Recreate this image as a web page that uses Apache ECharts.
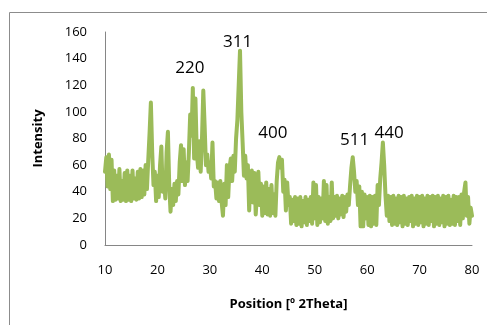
<!DOCTYPE html>
<html>
<head>
<meta charset="utf-8">
<script src="https://cdn.jsdelivr.net/npm/echarts@6/dist/echarts.min.js"></script>
<style>
html,body{margin:0;padding:0;background:#fff;}
#chart{width:487px;height:325px;}
</style>
</head>
<body>
<div id="chart"></div>
<script>
// 2Theta sampling: start 10, step 0.25 degrees
const thetaStart = 10;
const thetaStep = 0.25;
// Intensity values, one row per degree (x.00, x.25, x.50, x.75)
const intensity = [
  55, 66, 44, 68,   // 10
  42, 64, 33, 56,   // 11
  34, 52, 35, 57,   // 12
  33, 48, 34, 54,   // 13
  33, 56, 34, 52,   // 14
  33, 56, 35, 50,   // 15
  34, 55, 35, 57,   // 16
  36, 56, 38, 60,   // 17
  42, 64, 84, 107,  // 18
  70, 45, 55, 33,   // 19
  52, 36, 60, 74,   // 20
  40, 50, 35, 70,   // 21
  85, 45, 25, 42,   // 22
  30, 46, 33, 48,   // 23
  38, 62, 75, 48,   // 24
  72, 45, 62, 48,   // 25
  70, 98, 82, 118,  // 26
  65, 110, 70, 58,  // 27
  78, 55, 80, 116,  // 28
  90, 60, 68, 55,   // 29
  62, 50, 77, 44,   // 30
  48, 35, 47, 33,   // 31
  48, 32, 22, 46,   // 32
  30, 60, 36, 58,   // 33
  65, 48, 67, 55,   // 34
  80, 94, 120, 146, // 35
  100, 77, 52, 67,  // 36
  50, 60, 26, 52,   // 37
  56, 32, 54, 23,   // 38
  40, 55, 30, 46,   // 39
  22, 44, 24, 47,   // 40
  23, 42, 22, 45,   // 41
  24, 38, 22, 48,   // 42
  62, 66, 58, 64,   // 43
  40, 49, 26, 47,   // 44
  30, 36, 16, 34,   // 45
  18, 36, 15, 35,   // 46
  16, 36, 14, 33,   // 47
  17, 36, 15, 34,   // 48
  18, 36, 16, 47,   // 49
  20, 45, 15, 36,   // 50
  17, 35, 20, 48,   // 51
  18, 45, 16, 36,   // 52
  18, 47, 20, 36,   // 53
  22, 37, 20, 35,   // 54
  23, 37, 21, 36,   // 55
  25, 38, 30, 45,   // 56
  58, 66, 55, 40,   // 57
  48, 30, 44, 14,   // 58
  40, 14, 38, 20,   // 59
  36, 15, 37, 14,   // 60
  36, 16, 37, 15,   // 61
  45, 30, 50, 62,   // 62
  77, 60, 37, 22,   // 63
  37, 18, 36, 15,   // 64
  37, 16, 35, 15,   // 65
  37, 17, 36, 14,   // 66
  37, 16, 35, 15,   // 67
  36, 18, 37, 14,   // 68
  35, 16, 37, 15,   // 69
  36, 17, 37, 14,   // 70
  35, 16, 37, 15,   // 71
  36, 18, 37, 14,   // 72
  36, 16, 37, 15,   // 73
  35, 17, 37, 14,   // 74
  36, 16, 37, 15,   // 75
  34, 16, 37, 15,   // 76
  36, 18, 36, 15,   // 77
  38, 20, 40, 47,   // 78
  22, 36, 16, 28,   // 79
  22                // 80
];
const xTicks = [10, 20, 30, 40, 50, 60, 70, 80];
const yTicks = [0, 20, 40, 60, 80, 100, 120, 140, 160];
// Peak annotations (text and anchor position in data units)
const peakLabels = ['220', '311', '400', '511', '440'];
const peakX = [26.2, 35.3, 42.0, 57.6, 64.2];
const peakY = [133, 152, 84, 79, 84];

const seriesData = intensity.map((v, i) => [thetaStart + i * thetaStep, v]);

const chart = echarts.init(document.getElementById('chart'), null, {renderer: 'canvas'});
const font = '"Open Sans", "Liberation Sans", sans-serif';
chart.setOption({
  animation: false,
  backgroundColor: '#ffffff',
  graphic: [{
    type: 'rect',
    shape: {x: 9.5, y: 12.5, width: 520, height: 400},
    style: {fill: 'none', stroke: '#8c8c8c', lineWidth: 1},
    silent: true
  }],
  grid: {left: 105, right: 15, top: 32, bottom: 80, containLabel: false},
  xAxis: {
    type: 'value',
    min: xTicks[0],
    max: xTicks[xTicks.length - 1],
    interval: xTicks[1] - xTicks[0],
    name: 'Position [º 2Theta]',
    nameLocation: 'middle',
    nameGap: 53,
    nameTextStyle: {fontFamily: font, fontSize: 13, fontWeight: 'bold', color: '#000'},
    axisLine: {show: true, lineStyle: {color: '#868686', width: 1}},
    axisTick: {show: false},
    splitLine: {show: false},
    axisLabel: {fontFamily: font, fontSize: 13, color: '#000', margin: 19}
  },
  yAxis: {
    type: 'value',
    min: yTicks[0],
    max: yTicks[yTicks.length - 1],
    interval: yTicks[1] - yTicks[0],
    name: 'Intensity',
    nameLocation: 'middle',
    nameGap: 60,
    nameRotate: 90,
    nameTextStyle: {fontFamily: font, fontSize: 13, fontWeight: 'bold', color: '#000'},
    axisLine: {show: true, lineStyle: {color: '#868686', width: 1}},
    axisTick: {show: false},
    splitLine: {show: false},
    axisLabel: {fontFamily: font, fontSize: 13, color: '#000', margin: 18}
  },
  series: [{
    type: 'line',
    data: seriesData,
    showSymbol: false,
    symbol: 'none',
    lineStyle: {color: '#9bbb59', width: 4, join: 'round', cap: 'round'},
    itemStyle: {color: '#9bbb59'},
    markPoint: {
      symbol: 'circle',
      symbolSize: 1,
      itemStyle: {color: 'rgba(0,0,0,0)'},
      label: {show: true, position: 'inside', formatter: '{b}', fontFamily: font, fontSize: 17, color: '#000'},
      data: peakLabels.map((t, i) => ({name: t, coord: [peakX[i], peakY[i]]}))
    }
  }]
});
</script>
</body>
</html>
